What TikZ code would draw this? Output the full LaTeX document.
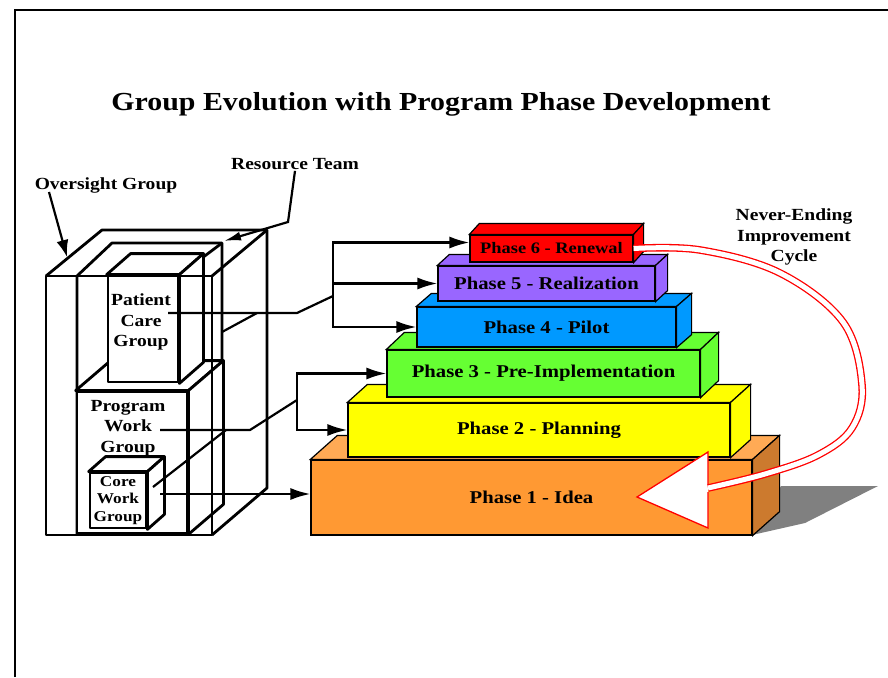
\documentclass[tikz,border=0pt]{standalone}
\usepackage{fontspec}
\setmainfont{Liberation Serif}[FakeStretch=1.15]
\usetikzlibrary{arrows.meta}

\definecolor{ph1}{HTML}{FF9933}
\definecolor{ph1top}{HTML}{FFAA55}
\definecolor{ph1side}{HTML}{CC7A2E}
\definecolor{ph2}{HTML}{FFFF00}
\definecolor{ph3}{HTML}{66FF33}
\definecolor{ph4}{HTML}{0099FF}
\definecolor{ph5}{HTML}{9966FF}
\definecolor{ph6}{HTML}{FF0000}
\definecolor{shadowgray}{HTML}{808080}

\tikzset{
  wire/.style={line width=2.8pt, line join=round},
  conn/.style={line width=2.2pt},
  arr/.style={-{Latex[length=20pt,width=12pt]}},
  lbl/.style={font=\bfseries\fontsize{17}{20.5}\selectfont, align=center, inner sep=1pt},
  phase/.style={draw, line width=1.2pt, inner sep=0pt, font=\bfseries\fontsize{18}{20}\selectfont},
  wbox/.style={draw, wire, fill=white, inner sep=0pt},
}

% top and right faces behind a front-face node
\newcommand{\cubeside}[5]{%
  \filldraw[fill=#4] (#1.north west) -- ++(#2,#3) -- ([shift={(#2,#3)}]#1.north east) -- (#1.north east) -- cycle;
  \filldraw[fill=#5] (#1.north east) -- ([shift={(#2,#3)}]#1.north east) -- ([shift={(#2,#3)}]#1.south east) -- (#1.south east) -- cycle;
}

\begin{document}
\begin{tikzpicture}[x=1pt,y=-1pt]
\useasboundingbox (0,0) rectangle (888,677);
\draw[line width=2pt] (15,677) -- (15,10) -- (888,10);

\node[font=\bfseries\fontsize{26}{30}\selectfont] (title) at (441,104) {Group Evolution with Program Phase Development};

% groups
\draw[wire] (77,535) -- (77,276) -- (112,243) -- (222,243) -- (222,503);
\draw[wire] (178,276) -- (222,243);
\begin{scope}[wire]
\node[wbox, minimum width=110, minimum height=141] (pwbox) at (132,462.5) {};
\cubeside{pwbox}{35}{-30}{white}{white}
\node[wbox, minimum width=70, minimum height=106] (pcbox) at (143,329) {};
\cubeside{pcbox}{24}{-21}{white}{white}
\node[wbox, minimum width=56, minimum height=55, align=center,
      font=\bfseries\fontsize{15}{17.5}\selectfont] (cwg) at (118,500.5) {Core\\Work\\Group};
\cubeside{cwg}{17}{-15}{white}{white}
\end{scope}
\draw[wire] (46,276) rectangle (212,535);
\draw[wire] (46,276) -- (102,230) -- (267,230) -- (267,488) -- (212,535);
\draw[wire] (212,276) -- (267,230);

\node[lbl] (pcg) at (141,322) {Patient\\Care\\Group};
\node[lbl] (pwg) at (128,428) {Program\\Work\\Group};
\node[lbl] (og) at (106,185) {Oversight Group};
\node[lbl] (rt) at (295,164) {Resource Team};
\node[lbl] (cyc) at (794,237) {Never-Ending\\Improvement\\Cycle};

% phases, bottom up
\fill[shadowgray] (752,535) -- (805,523) -- (878,486) -- (781,486) -- cycle;
\begin{scope}[line width=1.2pt]
\node[phase, fill=ph1, minimum width=441, minimum height=75] (p1) at (531.5,497.5) {Phase 1 - Idea};
\cubeside{p1}{27}{-24}{ph1top}{ph1side}
\node[phase, fill=ph2, minimum width=382, minimum height=54] (p2) at (539,430) {Phase 2 - Planning};
\cubeside{p2}{20}{-18}{ph2}{ph2}
\node[phase, fill=ph3, minimum width=313, minimum height=47] (p3) at (543.5,373.5) {Phase 3 - Pre-Implementation};
\cubeside{p3}{18}{-17}{ph3}{ph3}
\node[phase, fill=ph4, minimum width=259, minimum height=40] (p4) at (546.5,327) {Phase 4 - Pilot};
\cubeside{p4}{15}{-13}{ph4}{ph4}
\node[phase, fill=ph5, minimum width=217, minimum height=35] (p5) at (546.5,283.5) {Phase 5 - Realization};
\cubeside{p5}{12}{-11}{ph5}{ph5}
\node[phase, fill=ph6, minimum width=163, minimum height=27, font=\bfseries\fontsize{16}{18}\selectfont] (p6) at (551.5,248.5) {Phase 6 - Renewal};
\cubeside{p6}{10}{-11}{ph6}{ph6}
\end{scope}

% connectors
\coordinate (pcout) at (168,313);
\coordinate (pcbend) at (297,313);
\coordinate (pcfork) at (333,296);
\coordinate (rtout) at (222,332);
\coordinate (rtjoin) at (257,313);
\coordinate (pwout) at (160,430);
\coordinate (pwbend) at (250,430);
\coordinate (pwfork) at (297,400);
\coordinate (cwout) at (153,487);
\coordinate (cwjoin) at (226,430);
\coordinate (cwarr) at (160,494);
\coordinate (ogstart) at (49,192);
\coordinate (ogend) at (67,257);
\coordinate (rtbend) at (288,222);
\coordinate (rtend) at (224,241);

\draw[conn] (pcout) -- (pcbend) -- (pcfork);
\draw[conn,arr] (pcfork) |- ([yshift=6pt]p6.west);
\draw[conn,arr] (pcfork) |- (p5.west);
\draw[conn,arr] (pcfork) |- (p4.west);
\draw[conn] (rtout) -- (rtjoin);
\draw[conn] (pwout) -- (pwbend) -- (pwfork);
\draw[conn,arr] (pwfork) |- (p3.west);
\draw[conn,arr] (pwfork) |- (p2.west);
\draw[conn] (cwout) -- (cwjoin);
\draw[conn,arr] (cwarr) -- (cwarr -| p1.west);
\draw[conn,-{Latex[length=17pt,width=12pt]}] (ogstart) -- (ogend);
\draw[conn,-{Latex[length=17pt,width=9pt]}] (rt.south) -- (rtbend) -- (rtend);

% improvement cycle
\coordinate (cyctip) at (637,497);
\fill[white] (cyctip) -- (708,452) -- (708,528) -- cycle;
\draw[red, line width=1.3pt, double=white, double distance=5pt]
  plot[smooth, tension=0.6] coordinates {(p6.east) (700,250) (780,273) (843,322) (862,385) (852,428) (818,455) (765,474) (708,488)};
\draw[red, line width=1.3pt, line join=miter] (708,484) -- (708,452) -- (cyctip) -- (708,528) -- (708,492);
\end{tikzpicture}
\end{document}
